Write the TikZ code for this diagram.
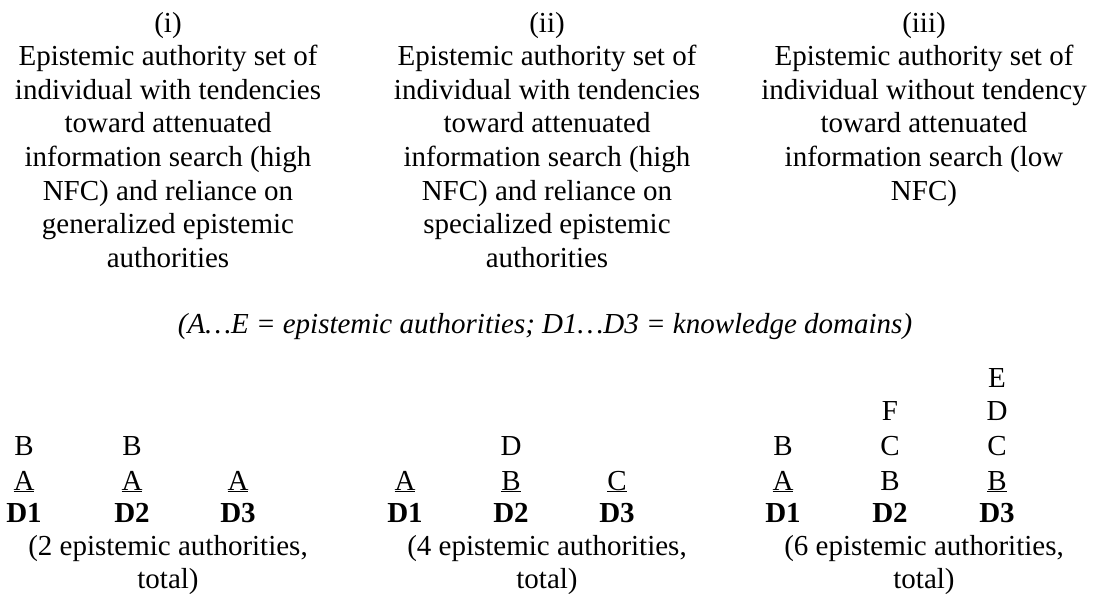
\documentclass[tikz,border=0pt]{standalone}
\usepackage{fontspec}
\setmainfont{Liberation Serif}
\begin{document}
\begin{tikzpicture}[x=1pt,y=-1pt,
  every node/.style={inner sep=0pt, outer sep=0pt, font=\fontsize{29}{33.6}\selectfont},
  head/.style={align=center, anchor=north},
  lab/.style={anchor=base},
  dom/.style={anchor=base, font=\fontsize{29}{33.6}\selectfont\bfseries}]
\useasboundingbox (0,0) rectangle (1096,594);
% headers
\node[head] (h1) at (168,12) {(i)\\Epistemic authority set of\\individual with tendencies\\toward attenuated\\information search (high\\NFC) and reliance on\\generalized epistemic\\authorities};
\node[head] (h2) at (547,12) {(ii)\\Epistemic authority set of\\individual with tendencies\\toward attenuated\\information search (high\\NFC) and reliance on\\specialized epistemic\\authorities};
\node[head] (h3) at (924,12) {(iii)\\Epistemic authority set of\\individual without tendency\\toward attenuated\\information search (low\\NFC)};
% legend
\node[lab, font=\fontsize{29}{33.6}\selectfont\itshape] (leg) at (545,333) {(A…E = epistemic authorities; D1…D3 = knowledge domains)};
% column 1
\node[lab] (a1b1) at (24,455) {B};
\node[lab] (a1a1) at (24,490) {\underline{A}};
\node[dom] (a1d1) at (24,522) {D1};
\node[lab] (a1b2) at (132,455) {B};
\node[lab] (a1a2) at (132,490) {\underline{A}};
\node[dom] (a1d2) at (132,522) {D2};
\node[lab] (a1a3) at (238,490) {\underline{A}};
\node[dom] (a1d3) at (238,522) {D3};
\node[lab] (t1a) at (168,555) {(2 epistemic authorities,};
\node[lab] (t1b) at (168,588) {total)};
% column 2
\node[lab] (a2a1) at (405,490) {\underline{A}};
\node[dom] (a2d1) at (405,522) {D1};
\node[lab] (a2dd) at (511,455) {D};
\node[lab] (a2b2) at (511,490) {\underline{B}};
\node[dom] (a2d2) at (511,522) {D2};
\node[lab] (a2c3) at (617,490) {\underline{C}};
\node[dom] (a2d3) at (617,522) {D3};
\node[lab] (t2a) at (547,555) {(4 epistemic authorities,};
\node[lab] (t2b) at (547,588) {total)};
% column 3
\node[lab] (a3b1) at (783,455) {B};
\node[lab] (a3a1) at (783,490) {\underline{A}};
\node[dom] (a3d1) at (783,522) {D1};
\node[lab] (a3f2) at (890,420) {F};
\node[lab] (a3c2) at (890,455) {C};
\node[lab] (a3b2) at (890,490) {B};
\node[dom] (a3d2) at (890,522) {D2};
\node[lab] (a3e3) at (997,387) {E};
\node[lab] (a3dd3) at (997,420) {D};
\node[lab] (a3c3) at (997,455) {C};
\node[lab] (a3b3) at (997,490) {\underline{B}};
\node[dom] (a3d3) at (997,522) {D3};
\node[lab] (t3a) at (924,555) {(6 epistemic authorities,};
\node[lab] (t3b) at (924,588) {total)};
\end{tikzpicture}
\end{document}
